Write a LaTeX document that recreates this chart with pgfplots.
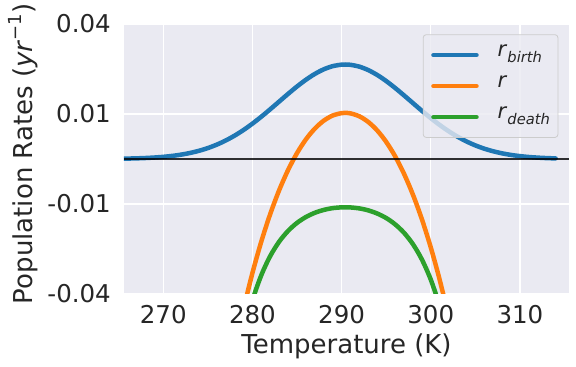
\documentclass[border=0pt]{standalone}
\usepackage{fontspec}
\setmainfont{DejaVu Sans}[ItalicFont={DejaVu Sans Oblique}]
\usepackage{pgfplots}
\pgfplotsset{compat=1.18}
\definecolor{sbbg}{HTML}{EAEAF2}
\definecolor{txt}{HTML}{262626}
\definecolor{c1}{HTML}{1F77B4}
\definecolor{c2}{HTML}{FF7F0E}
\definecolor{c3}{HTML}{2CA02C}
\newcommand{\lsub}[1]{\raisebox{-0.28em}{\fontsize{14.7bp}{16bp}\selectfont\itshape #1}}
\begin{document}
\begin{tikzpicture}
\useasboundingbox (-124bp,-73bp) rectangle (452bp,294bp);
\begin{axis}[
  at={(0,0)}, anchor=south west,
  scale only axis, width=445bp, height=270bp,
  xmin=265.6, xmax=315.5, ymin=-0.04, ymax=0.04,
  axis background/.style={fill=sbbg},
  axis line style={draw=none},
  grid=major, major grid style={white, line width=1.2bp},
  major tick length=0pt,
  xtick={270,280,290,300,310}, xticklabels={270,280,290,300,310},
  ytick={-0.04,-0.0133333,0.0133333,0.04}, yticklabels={-0.04,-0.01,0.01,0.04},
  scaled y ticks=false,
  ticklabel style={font=\fontsize{24.5bp}{28bp}\selectfont, text=txt},
  xticklabel style={anchor=north, inner sep=0pt, yshift=-11bp},
  yticklabel style={anchor=east, inner sep=0pt, xshift=-13bp},
  xlabel={Temperature (K)},
  ylabel={Population Rates (\textit{yr}\raisebox{0.45em}{\fontsize{18bp}{18bp}\selectfont −1})},
  label style={font=\fontsize{26bp}{30bp}\selectfont, text=txt},
  xlabel style={at={(rel axis cs:0.5,-0.2196)}, anchor=base, inner sep=0pt},
  ylabel style={at={(rel axis cs:-0.2045,0.519)}, anchor=base, inner sep=0pt},
  legend style={at={(rel axis cs:0.976,0.962)}, anchor=north east, fill=sbbg, fill opacity=0.8, text opacity=1, draw=white!80!black, rounded corners=3bp, font=\fontsize{21bp}{24bp}\selectfont, text=txt, inner xsep=8bp, inner ysep=4.9bp, row sep=0pt, column sep=19bp, nodes={inner sep=0pt, text height=17bp, text depth=14bp}, line width=0.8bp},
  legend cell align=left,
  legend image code/.code={\draw[#1, line cap=round] (0bp,0bp) -- (43bp,0bp);},
]
\addplot[c1, line width=4.5bp, line cap=round, smooth] coordinates {
(265.6,0.000104) (266,0.000125) (267,0.000193) (268,0.000292) (269,0.000436) (270,0.000637) (271,0.000915) (272,0.001290) (273,0.001786) (274,0.002427) (275,0.003242) (276,0.004251) (277,0.005473) (278,0.006920) (279,0.008591) (280,0.010475) (281,0.012540) (282,0.014743) (283,0.017020) (284,0.019295) (285,0.021480) (286,0.023481) (287,0.025207) (288,0.026572) (289,0.027506) (290,0.027959) (290.4,0.028) (291,0.027908) (292,0.027356) (293,0.026331) (294,0.024888) (295,0.023100) (296,0.021054) (297,0.018844) (298,0.016563) (299,0.014293) (300,0.012114) (301,0.010083) (302,0.008239) (303,0.006612) (304,0.005211) (305,0.004031) (306,0.003064) (307,0.002287) (308,0.001676) (309,0.001206) (310,0.000852) (311,0.000591) (312,0.000403) (313,0.000269) (314,0.000177)
};
\addlegendentry{\textit{r}\lsub{birth}}
\addplot[c2, line width=4.5bp, line cap=round, smooth] coordinates {
(279,-0.04441) (280,-0.03378) (281,-0.02443) (282,-0.01628) (283,-0.00925) (284,-0.00326) (285,0.00174) (286,0.00582) (287,0.00901) (288,0.01136) (289,0.01288) (290,0.0136) (290.4,0.01366) (291,0.01352) (292,0.01264) (293,0.01095) (294,0.00844) (295,0.00508) (296,0.00082) (297,-0.00438) (298,-0.01057) (299,-0.01782) (300,-0.0262) (301,-0.0358) (302,-0.0467)
};
\addlegendentry{\textit{r}}
\addplot[c3, line width=4.5bp, line cap=round, smooth] coordinates {
(279,-0.05187) (280,-0.04192) (281,-0.03440) (282,-0.02874) (283,-0.02449) (284,-0.02130) (285,-0.01893) (286,-0.01719) (287,-0.01594) (288,-0.01509) (289,-0.01456) (290,-0.01432) (290.4,-0.0143) (291,-0.01435) (292,-0.01464) (293,-0.01523) (294,-0.01616) (295,-0.01749) (296,-0.01935) (297,-0.02186) (298,-0.02524) (299,-0.02975) (300,-0.03574) (301,-0.04369) (302,-0.05422)
};
\addlegendentry{\textit{r}\lsub{death}}
\addplot[black, opacity=0.8, line width=1.6bp, forget plot] coordinates {(265.6,0) (315.5,0)};
\end{axis}
\end{tikzpicture}
\end{document}
